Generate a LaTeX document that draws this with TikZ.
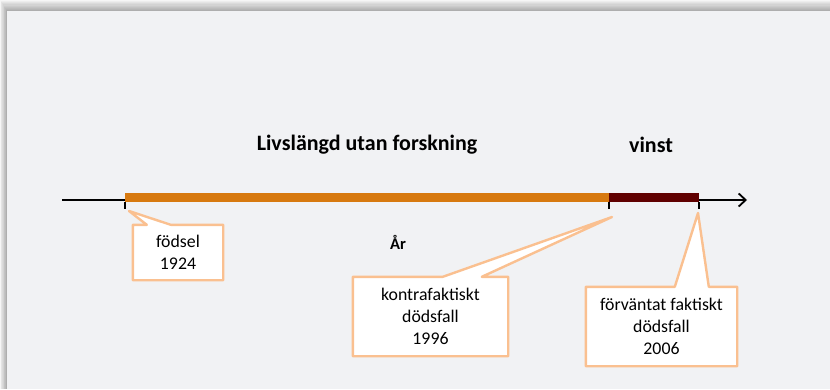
\documentclass[tikz,border=0pt]{standalone}
\usepackage{fontspec}
\setmainfont{Carlito}
\usetikzlibrary{arrows.meta,backgrounds}
\definecolor{panelgray}{HTML}{F1F2F4}
\definecolor{lifeorange}{HTML}{D7790F}
\definecolor{gaindark}{HTML}{600000}
\definecolor{calloutedge}{HTML}{FAC090}

\begin{document}
\begin{tikzpicture}[x=1pt, y=-1pt,
                        timeaxis/.style={line width=1.8pt, -{Straight Barb[length=7pt,width=13pt]}},
                        tickmark/.style={line width=1.8pt},
                        lifebar/.style={line width=9pt},
                        heading/.style={font=\fontsize{22}{26}\selectfont\bfseries},
                        boxtext/.style={align=center, inner sep=0pt, font=\fontsize{17.8}{21.7}\selectfont},
                        calloutline/.style={fill=white, draw=calloutedge, line width=2.4pt, line join=round}]
    \useasboundingbox (0,0) rectangle (830,389);
    \begin{scope}[on background layer]
        \fill[white] (0,0) rectangle (830,389);
        \foreach \i in {1,...,10}
            \fill[black, opacity=0.035] ({7-0.7*\i},{11-1.1*\i}) rectangle (830,389);
        \fill[panelgray] (7,11) rectangle (830,389);
    \end{scope}

    \coordinate (axstart) at (62,200);
    \coordinate (axend) at (747,200);
    \coordinate (birth) at (125,200);
    \coordinate (cfdeath) at (609,200);
    \coordinate (death) at (699,200);

    \draw[timeaxis] (axstart) -- (axend);
    \draw[lifebar, lifeorange] ([yshift=2.5pt]birth) -- ([yshift=2.5pt]cfdeath);
    \draw[lifebar, gaindark] ([yshift=2.5pt]cfdeath) -- ([yshift=2.5pt]death);
    \foreach \tk in {birth, cfdeath, death}
        \draw[tickmark] ([yshift=-2pt]\tk) -- ++(0,7);

    \node[heading] (lifelabel) at (367,145) {Livslängd utan forskning};
    \node[heading] (gainlabel) at (651,145) {vinst};
    \node[font=\fontsize{16.5}{20}\selectfont\bfseries] (yearlabel) at (398,242) {År};

    \node[boxtext, minimum width=90pt, minimum height=55pt] (birthbox) at (178,252.5) {födsel\\1924};
    \node[boxtext, minimum width=155pt, minimum height=79pt] (cfbox) at (430.5,316.5) {kontrafaktiskt\\dödsfall\\1996};
    \node[boxtext, minimum width=151pt, minimum height=79pt] (deathbox) at (661.5,326.5) {förväntat faktiskt\\dödsfall\\2006};

    \begin{scope}[on background layer]
        \draw[calloutline] (birthbox.south west) -- (birthbox.north west) -- ([xshift=14pt]birthbox.north west)
            -- ([shift={(4,11)}]birth) -- ([xshift=38pt]birthbox.north west) -- (birthbox.north east)
            -- (birthbox.south east) -- cycle;
        \draw[calloutline] (cfbox.south west) -- (cfbox.north west) -- ([xshift=90pt]cfbox.north west)
            -- ([shift={(3,17)}]cfdeath) -- ([xshift=129pt]cfbox.north west) -- (cfbox.north east)
            -- (cfbox.south east) -- cycle;
        \draw[calloutline] (deathbox.south west) -- (deathbox.north west) -- ([xshift=89pt]deathbox.north west)
            -- ([shift={(-1,13)}]death) -- ([xshift=123pt]deathbox.north west) -- (deathbox.north east)
            -- (deathbox.south east) -- cycle;
    \end{scope}
\end{tikzpicture}
\end{document}
